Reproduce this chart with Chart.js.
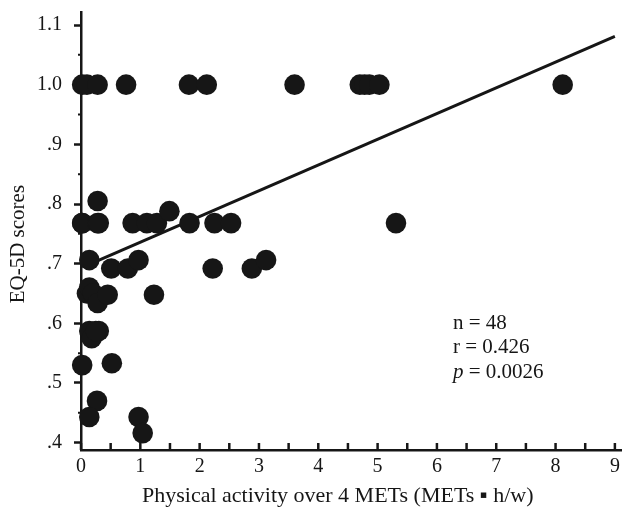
<!DOCTYPE html>
<html>
<head>
<meta charset="utf-8">
<script src="https://cdn.jsdelivr.net/npm/chart.js@4.4.1/dist/chart.umd.min.js"></script>
<style>
  html, body { margin: 0; padding: 0; background: #fff; }
  #wrap { width: 622px; height: 521px; position: relative; }
</style>
</head>
<body>
<div id="wrap"><canvas id="myCanvas"></canvas></div>
<script>
// physical activity (METs*h/w) vs EQ-5D score, one entry per subject
const activity = [
  0.02, 0.1, 0.28, 0.76, 1.82, 2.12, 3.60, 4.70, 4.78, 4.86, 5.03, 8.12,
  0.02, 0.02, 0.28, 0.3, 0.87, 1.11, 1.28, 1.83, 2.25, 2.53, 5.31,
  0.28, 1.49,
  0.14, 0.51, 0.79, 0.97, 2.22, 2.88, 3.12,
  0.1, 0.14, 0.2, 0.28, 0.45, 1.23,
  0.14, 0.3, 0.18, 0.25,
  0.02, 0.52,
  0.27, 0.14, 0.97, 1.04
];
const eq5d = [
  1.0, 1.0, 1.0, 1.0, 1.0, 1.0, 1.0, 1.0, 1.0, 1.0, 1.0, 1.0,
  0.768, 0.768, 0.768, 0.768, 0.768, 0.768, 0.768, 0.768, 0.768, 0.768, 0.768,
  0.805, 0.788,
  0.706, 0.692, 0.692, 0.706, 0.692, 0.692, 0.706,
  0.65, 0.66, 0.65, 0.634, 0.648, 0.648,
  0.587, 0.587, 0.575, 0.587,
  0.53, 0.533,
  0.47, 0.443, 0.443, 0.416
];
const fitX = [0.1, 9];
const fitY = [0.697, 1.081];
const xTicks = [0, 1, 2, 3, 4, 5, 6, 7, 8, 9];
const yTicks = [0.4, 0.5, 0.6, 0.7, 0.8, 0.9, 1.0, 1.1];
const yTickLabels = ['.4', '.5', '.6', '.7', '.8', '.9', '1.0', '1.1'];
const xMinor = [0.5, 1.5, 2.5, 3.5, 4.5, 5.5, 6.5, 7.5, 8.5];
const yMinor = [0.45, 0.55, 0.65, 0.75, 0.85, 0.95, 1.05];
const statLines = [['', 'n = 48'], ['', 'r = 0.426'], ['p', ' = 0.0026']];

const serif = "'Liberation Serif', 'DejaVu Serif', serif";
const ink = '#161616';
const nb = '\u00a0\u00a0\u00a0\u00a0\u00a0';

const tickPlugin = {
  id: 'tickPlugin',
  afterDraw(chart) {
    const ctx = chart.ctx;
    const xs = chart.scales.x, ys = chart.scales.y;
    const area = chart.chartArea;
    ctx.save();
    ctx.strokeStyle = ink;
    ctx.lineWidth = 2.5;
    ctx.beginPath();
    xTicks.concat(xMinor).forEach(v => {
      const px = xs.getPixelForValue(v);
      ctx.moveTo(px, area.bottom);
      ctx.lineTo(px, area.bottom - 7);
    });
    ctx.stroke();
    ctx.lineWidth = 2;
    ctx.beginPath();
    yMinor.forEach(v => {
      const py = ys.getPixelForValue(v);
      ctx.moveTo(area.left, py);
      ctx.lineTo(area.left - 3, py);
    });
    ctx.stroke();

    // stats text
    ctx.fillStyle = ink;
    ctx.textBaseline = 'middle';
    let tx = xs.getPixelForValue(6.27);
    let ty = ys.getPixelForValue(0.6);
    statLines.forEach((ln, i) => {
      let x = tx;
      const y = ty + i * 24.5;
      if (ln[0]) {
        ctx.font = 'italic 21px ' + serif;
        ctx.fillText(ln[0], x, y);
        x += ctx.measureText(ln[0]).width;
      }
      ctx.font = '21px ' + serif;
      ctx.fillText(ln[1], x, y);
    });
    ctx.restore();
  }
};

const dataConfig = {
  datasets: [{
    type: 'scatter',
    label: 'subjects',
    data: activity.map((v, i) => ({x: v, y: eq5d[i]})),
    backgroundColor: ink,
    borderColor: ink,
    borderWidth: 0,
    pointRadius: 10.3,
    pointHoverRadius: 10.3,
    clip: false,
    order: 1
  }, {
    type: 'line',
    label: 'fit',
    data: fitX.map((v, i) => ({x: v, y: fitY[i]})),
    borderColor: ink,
    borderWidth: 3,
    pointRadius: 0,
    fill: false,
    order: 2
  }]
};

const config = {
  type: 'scatter',
  data: dataConfig,
  options: {
    responsive: true,
    maintainAspectRatio: false,
    animation: false,
    layout: { autoPadding: false, padding: { top: 12, right: 0, left: 0, bottom: 0 } },
    plugins: { legend: { display: false }, tooltip: { enabled: false } },
    scales: {
      x: {
        type: 'linear',
        min: 0,
        max: 9.12,
        afterBuildTicks: s => { s.ticks = xTicks.map(v => ({value: v})); },
        afterFit: s => { s.height = 71; s.paddingLeft = 0; s.paddingRight = 0; },
        grid: { display: true, drawOnChartArea: false, drawTicks: false },
        border: { display: true, color: ink, width: 2.5 },
        ticks: { color: ink, padding: 5, font: { family: serif, size: 20 }, maxRotation: 0,
                 callback: v => String(v) },
        title: { display: true, text: 'Physical activity over 4 METs (METs ▪ h/w)' + nb, color: ink,
                 font: { family: serif, size: 22 }, padding: { top: 0, bottom: 12 } }
      },
      y: {
        type: 'linear',
        min: 0.3877,
        max: 1.1218,
        afterBuildTicks: s => { s.ticks = yTicks.map(v => ({value: v})); },
        afterFit: s => { s.width = 81; s.paddingTop = 0; s.paddingBottom = 0; },
        grid: { display: true, drawOnChartArea: false, drawTicks: true, tickLength: 7, tickWidth: 2.5, tickColor: ink },
        border: { display: true, color: ink, width: 2.5 },
        ticks: { color: ink, padding: 12, font: { family: serif, size: 20 },
                 callback: (v) => { const i = yTicks.findIndex(t => Math.abs(t - v) < 1e-6); return i >= 0 ? yTickLabels[i] : ''; } },
        title: { display: true, text: 'EQ-5D scores' + nb, color: ink,
                 font: { family: serif, size: 21 }, padding: { top: 6, bottom: 6 } }
      }
    }
  },
  plugins: [tickPlugin]
};

const myChart = new Chart(document.getElementById('myCanvas'), config);
</script>
</body>
</html>
